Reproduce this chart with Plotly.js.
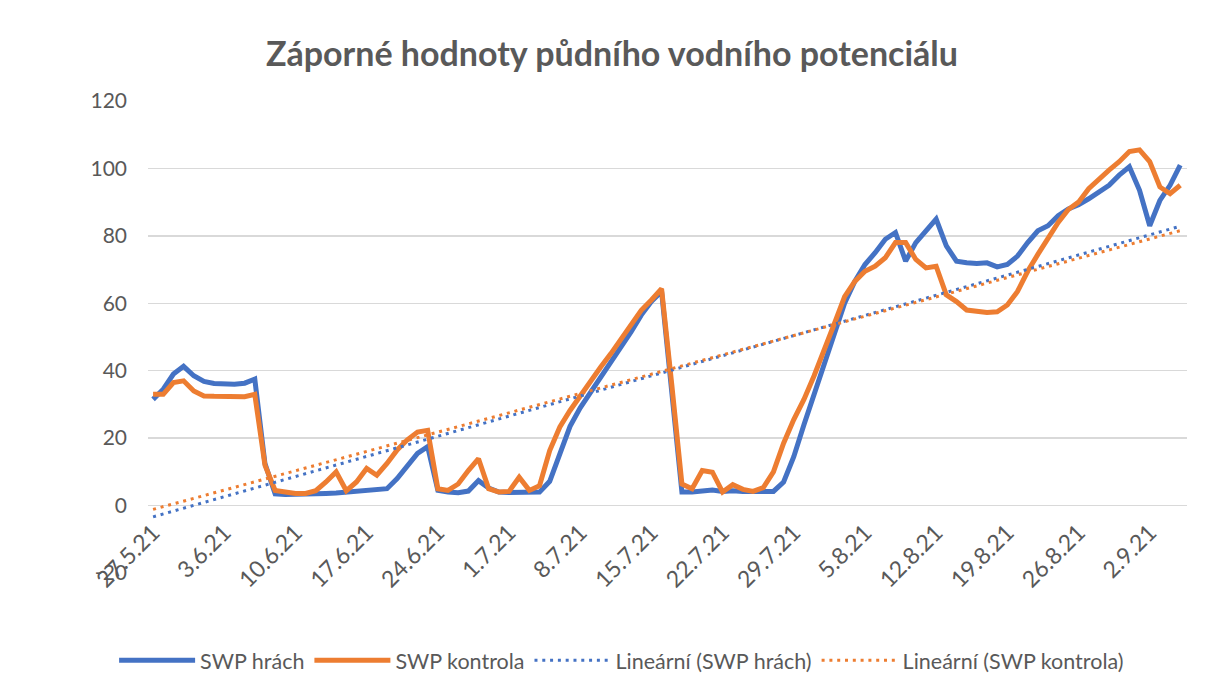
<!DOCTYPE html>
<html>
<head>
<meta charset="utf-8">
<script src="https://cdn.plot.ly/plotly-3.0.1.min.js"></script>
<style>html,body{margin:0;padding:0;background:#fff;}#chart{width:1207px;height:692px;}</style>
</head>
<body>
<div id="chart"></div>
<script>
// First measured day and the tick labels of the date axis
const startDate = '2021-05-27';
const xTickLabels = ['27.5.21','3.6.21','10.6.21','17.6.21','24.6.21','1.7.21','8.7.21','15.7.21','22.7.21','29.7.21','5.8.21','12.8.21','19.8.21','26.8.21','2.9.21'];
const yTickValues = [-20,0,20,40,60,80,100,120];
const yTickLabels = ['-20','0','20','40','60','80','100','120'];

// SWP hrách (daily values)
const swpHrach = [
  31.5,34.5,39,41.3,38.5,36.8,36.2,36,36,36.3,
  37.5,12.5,3.5,3.3,3.3,3.4,3.5,3.6,3.7,3.9,
  4.1,4.3,4.6,5,8,12,15.5,17.5,4.5,4,
  3.8,4.3,7.4,5.2,4,3.9,3.9,3.9,4,7.2,
  15,23.5,29,33.5,37.5,42,46.5,51.5,56.5,60.5,
  63.5,32,4,4,4.2,4.6,4.2,4.4,4.2,4.2,
  4.2,4.2,7,14.5,24,33,42.5,52,60,66.5,
  71.5,75,79,81,72.5,78,81.5,85,77,72.5,
  72,71.8,72,70.8,71.5,74,78,81.5,83,86,
  88,89.2,91,93,95,98,100.5,93.5,83,90.5,
  95,101
];

// SWP kontrola
const swpKontrola = [
  33,33,36.5,37,34,32.5,32.4,32.4,32.3,32.3,
  33,12,4.5,4,3.6,3.6,4.4,7,10,4.4,
  7,11,9,12.5,16.5,19.5,21.8,22.3,5,4.5,
  6.4,10.4,13.9,5,4,4.2,8.4,4.5,5.9,16.3,
  23.3,28.2,32.6,37,41,45,49.5,53.5,57.9,61,
  64.3,36,6.4,5,10.4,9.9,4,6.2,4.8,4.2,
  5.3,10,18.5,25.5,31.5,38.5,46,54,62,66.5,
  69.5,71,73.5,78,78,73,70.5,71,62.5,60.5,
  58,57.5,57.3,57.5,59.5,63.5,69.5,74.5,79,84,
  87.8,90,94,97,99.5,102,105,105.5,102,94.5,
  92.5,95
];

const seriesNames = ['SWP hrách','SWP kontrola','Lineární (SWP hrách)','Lineární (SWP kontrola)'];
const colors = ['#4472C4','#ED7D31'];

function dayStr(base, n){
  const d = new Date(base + 'T00:00:00Z');
  d.setUTCDate(d.getUTCDate() + n);
  return d.toISOString().slice(0,10);
}
function labelToDate(lbl){
  const p = lbl.split('.');
  return '20' + p[2] + '-' + p[1].padStart(2,'0') + '-' + p[0].padStart(2,'0');
}
const dates = swpHrach.map((_, i) => dayStr(startDate, i));
const tickVals = xTickLabels.map(labelToDate);

function linFit(ys){
  const n = ys.length;
  let sx=0, sy=0, sxx=0, sxy=0;
  ys.forEach((y,i)=>{sx+=i; sy+=y; sxx+=i*i; sxy+=i*y;});
  const b = (n*sxy - sx*sy)/(n*sxx - sx*sx);
  const a = (sy - b*sx)/n;
  return ys.map((_,i)=>a+b*i);
}

const fontFam = 'Lato, "Liberation Sans", sans-serif';
const txtCol = '#595959';

const traces = [
  {x: dates, y: swpHrach, name: seriesNames[0], type:'scatter', mode:'lines',
   line:{color:colors[0], width:5}},
  {x: dates, y: swpKontrola, name: seriesNames[1], type:'scatter', mode:'lines',
   line:{color:colors[1], width:5}},
  {x: dates, y: linFit(swpHrach), name: seriesNames[2], type:'scatter', mode:'lines',
   line:{color:colors[0], width:3, dash:'3px,4.8px'}},
  {x: dates, y: linFit(swpKontrola), name: seriesNames[3], type:'scatter', mode:'lines',
   line:{color:colors[1], width:3, dash:'3px,4.8px'}}
];

const layout = {
  width:1207, height:692,
  margin:{l:148, r:20, t:101, b:119},
  paper_bgcolor:'#fff', plot_bgcolor:'#fff',
  font:{family:fontFam, color:txtCol, size:20},
  title:{text:'Záporné hodnoty půdního vodního potenciálu', font:{family:fontFam, size:34, color:txtCol, weight:'bold'},
         x:0.507, xanchor:'center', y:0.922, yanchor:'middle'},
  showlegend:true,
  legend:{orientation:'h', xref:'container', yref:'container', x:0.515, xanchor:'center', y:0.046, yanchor:'middle',
          font:{size:21.5, color:txtCol}, itemwidth:76, traceorder:'normal'},
  xaxis:{type:'date', range:['2021-05-26 12:00','2021-09-05 16:00'], tickvals:tickVals, ticktext:xTickLabels,
         tickangle:-45, tickfont:{size:23, color:txtCol}, showgrid:false, zeroline:false, showline:false,
         ticks:'', anchor:'free', position:20/140, ticklabelstandoff:8},
  yaxis:{range:[-20,120], tickvals:yTickValues, ticktext:yTickLabels, tickfont:{size:21, color:txtCol},
         showgrid:true, gridcolor:'#D9D9D9', gridwidth:1.5, zeroline:false, showline:false, ticks:'',
         ticklabelstandoff:20}
};

Plotly.newPlot('chart', traces, layout, {displayModeBar:false, staticPlot:true});
</script>
</body>
</html>
